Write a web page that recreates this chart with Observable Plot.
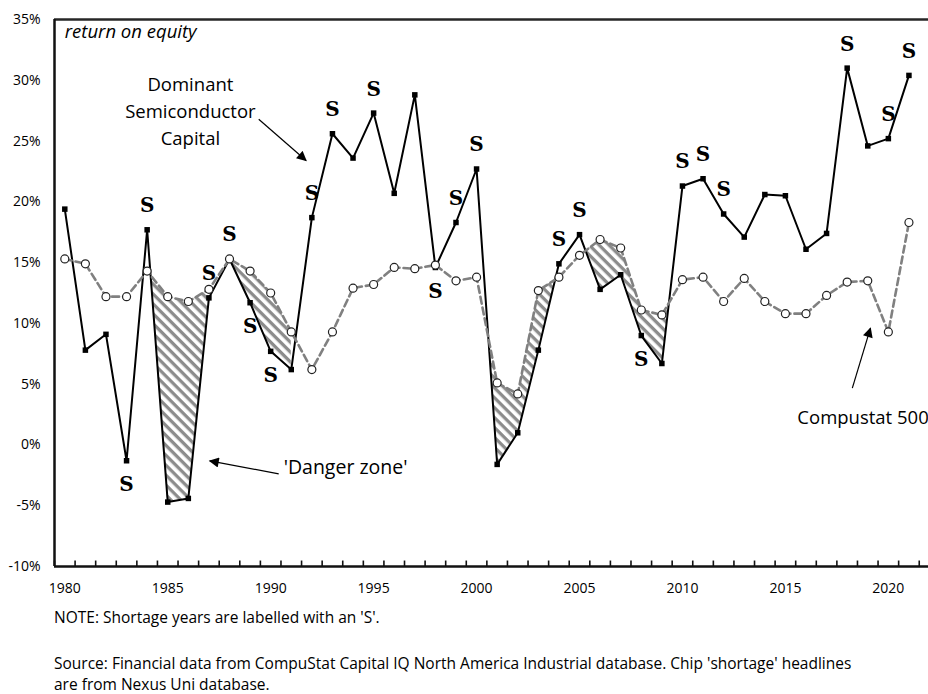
<!DOCTYPE html>
<html>
<head>
<meta charset="utf-8">
<script src="https://cdn.jsdelivr.net/npm/d3@7"></script>
<script src="https://cdn.jsdelivr.net/npm/@observablehq/plot@0.6"></script>
<style>
  body { margin: 0; background: #fff; font-family: "Open Sans", sans-serif; color: #000; }
  #chart { width: 928px; height: 600px; }
  #note { margin-left: 54px; padding-top: 7px; font-size: 15.5px; line-height: 20px; white-space: nowrap; }
  #source { margin-left: 54px; margin-top: 26px; font-size: 15.5px; line-height: 21px; white-space: nowrap; }
</style>
</head>
<body>
<div id="chart"></div>
<div id="note">NOTE: Shortage years are labelled with an 'S'.</div>
<div id="source">Source: Financial data from CompuStat Capital IQ North America Industrial database. Chip 'shortage' headlines<br>are from Nexus Uni database.</div>
<script>
// ---- Data (return on equity, %) ----
const years = [1980,1981,1982,1983,1984,1985,1986,1987,1988,1989,
               1990,1991,1992,1993,1994,1995,1996,1997,1998,1999,
               2000,2001,2002,2003,2004,2005,2006,2007,2008,2009,
               2010,2011,2012,2013,2014,2015,2016,2017,2018,2019,
               2020,2021];
const dominant = [19.4, 7.8, 9.1, -1.3, 17.7, -4.7, -4.4, 12.1, 15.3, 11.7,
                  7.7, 6.2, 18.7, 25.6, 23.6, 27.3, 20.7, 28.8, 14.6, 18.3,
                  22.7, -1.6, 1.0, 7.8, 14.9, 17.3, 12.8, 14.0, 9.0, 6.7,
                  21.3, 21.9, 19.0, 17.1, 20.6, 20.5, 16.1, 17.4, 31.0, 24.6,
                  25.2, 30.4];
const compustat = [15.3, 14.9, 12.2, 12.2, 14.3, 12.2, 11.8, 12.8, 15.3, 14.3,
                   12.5, 9.3, 6.2, 9.3, 12.9, 13.2, 14.6, 14.5, 14.8, 13.5,
                   13.8, 5.1, 4.2, 12.7, 13.8, 15.6, 16.9, 16.2, 11.1, 10.7,
                   13.6, 13.8, 11.8, 13.7, 11.8, 10.8, 10.8, 12.3, 13.4, 13.5,
                   9.3, 18.3];
const shortageAbove = [1984, 1987, 1988, 1992, 1993, 1995, 1999, 2000, 2004, 2005, 2010, 2011, 2012, 2018, 2020, 2021];
const shortageBelow = [1983, 1989, 1990, 1998, 2008];
const dangerZones = [[1984, 1987], [1988, 1991], [2000, 2004], [2005, 2010]];
const yTicks = [-10, -5, 0, 5, 10, 15, 20, 25, 30, 35];
const xLabelTicks = [1980, 1985, 1990, 1995, 2000, 2005, 2010, 2015, 2020];

// annotation placements (data coordinates)
const titleNote = [{x: 1980, y: 34.0, text: "return on equity"}];
const seriesLabels = [{x: 1986.1, y: 27.6, text: "Dominant\nSemiconductor\nCapital"}];
const zoneLabel = [{x: 1990.63, y: -1.85, text: "'Danger zone'"}];
const compLabel = [{x: 2015.58, y: 2.17, text: "Compustat 500"}];
const arrows = [
  {x1: 1989.42, y1: 26.8, x2: 1991.72, y2: 23.4},
  {x1: 1990.39, y1: -2.38, x2: 1987.04, y2: -1.31},
  {x1: 2018.25, y1: 4.68, x2: 2019.13, y2: 9.61}
];

// ---- Build tables ----
const rows = years.map((year, i) => ({year, dominant: dominant[i], compustat: compustat[i]}));
const byYear = new Map(rows.map(r => [r.year, r]));
const boundaries = years.concat([years[years.length - 1] + 1]).map(y => ({x: y - 0.5}));
const yMin = yTicks[0];
const tickLen = 0.45; // tick mark length in % units (~5-6px)

// hatched area between lines where dominant < compustat, within danger zones
const hatch = [];
dangerZones.forEach(([a, b], z) => {
  for (let yr = a; yr < b; yr++) {
    const r0 = byYear.get(yr), r1 = byYear.get(yr + 1);
    hatch.push({zone: z, x: yr, lo: r0.dominant, hi: Math.max(r0.dominant, r0.compustat)});
    const g0 = r0.compustat - r0.dominant, g1 = r1.compustat - r1.dominant;
    if (g0 * g1 < 0) {
      const t = g0 / (g0 - g1);
      const v = r0.dominant + t * (r1.dominant - r0.dominant);
      hatch.push({zone: z, x: yr + t, lo: v, hi: v});
    }
  }
  const rb = byYear.get(b);
  hatch.push({zone: z, x: b, lo: rb.dominant, hi: Math.max(rb.dominant, rb.compustat)});
});

const sFont = {fontFamily: "'DejaVu Serif', serif", fontWeight: "bold", fontSize: 20};
const annFont = 18.5;

const svg = Plot.plot({
  width: 928,
  height: 600,
  marginTop: 19,
  marginBottom: 34,
  marginLeft: 54,
  marginRight: 0,
  style: {fontFamily: "'Open Sans', sans-serif", fontSize: "14px", color: "#000", background: "#fff"},
  x: {domain: [1979.5, 2021.95]},
  y: {domain: [-10, 35]},
  marks: [
    Plot.area(hatch, {x1: "x", y1: "lo", y2: "hi", z: "zone", fill: "url(#hatch)"}),
    Plot.ruleY([35], {stroke: "#262626", strokeWidth: 2.5}),
    Plot.ruleX([1979.5], {stroke: "#111", strokeWidth: 2.5}),
    Plot.ruleX(boundaries, {x: "x", y1: () => yMin, y2: () => yMin + tickLen, stroke: "#111", strokeWidth: 1.6}),
    Plot.ruleY([-10], {stroke: "#111", strokeWidth: 2.5}),
    Plot.axisY(yTicks, {tickSize: 0, tickPadding: 14, tickFormat: d => d + "%", fontSize: 14, label: null}),
    Plot.axisX(xLabelTicks, {anchor: "bottom", tickSize: 0, tickPadding: 17, tickFormat: d => String(d), fontSize: 14, label: null}),
    Plot.line(rows, {x: "year", y: "dominant", stroke: "#000", strokeWidth: 2}),
    Plot.line(rows, {x: "year", y: "compustat", stroke: "#808080", strokeWidth: 2.6, strokeDasharray: "7,4"}),
    Plot.dot(rows, {x: "year", y: "dominant", symbol: "square", r: 3.1, fill: "#000"}),
    Plot.dot(rows, {x: "year", y: "compustat", r: 4, fill: "#fff", stroke: "#222", strokeWidth: 1.2}),
    Plot.text(shortageAbove.map(y => byYear.get(y)), {x: "year", y: "dominant", text: () => "S", dy: -24, ...sFont}),
    Plot.text(shortageBelow.map(y => byYear.get(y)), {x: "year", y: "dominant", text: () => "S", dy: 24, ...sFont}),
    Plot.text(titleNote, {x: "x", y: "y", text: "text", textAnchor: "start", fontStyle: "italic", fontSize: annFont}),
    Plot.text(seriesLabels, {x: "x", y: "y", text: "text", textAnchor: "middle", fontSize: annFont, lineHeight: 1.45}),
    Plot.text(zoneLabel, {x: "x", y: "y", text: "text", textAnchor: "start", fontSize: 19.5}),
    Plot.text(compLabel, {x: "x", y: "y", text: "text", textAnchor: "start", fontSize: annFont}),
    Plot.link(arrows, {x1: "x1", y1: "y1", x2: "x2", y2: "y2", stroke: "#000", strokeWidth: 1.2})
  ]
});

const root = d3.select(svg);
const defs = root.insert("defs", ":first-child");
const pat = defs.append("pattern")
  .attr("id", "hatch").attr("patternUnits", "userSpaceOnUse")
  .attr("width", 7).attr("height", 7).attr("patternTransform", "rotate(45)");
pat.append("rect").attr("width", 7).attr("height", 3.3).attr("fill", "#8c8c8c");
const mk = defs.append("marker")
  .attr("id", "ah").attr("viewBox", "0 0 10 10").attr("refX", 9).attr("refY", 5)
  .attr("markerUnits", "userSpaceOnUse").attr("markerWidth", 12).attr("markerHeight", 10)
  .attr("orient", "auto");
mk.append("path").attr("d", "M0,0L10,5L0,10Z").attr("fill", "#000");
root.selectAll('g[aria-label="link"] path').attr("marker-end", "url(#ah)");

document.getElementById("chart").appendChild(svg);
</script>
</body>
</html>
